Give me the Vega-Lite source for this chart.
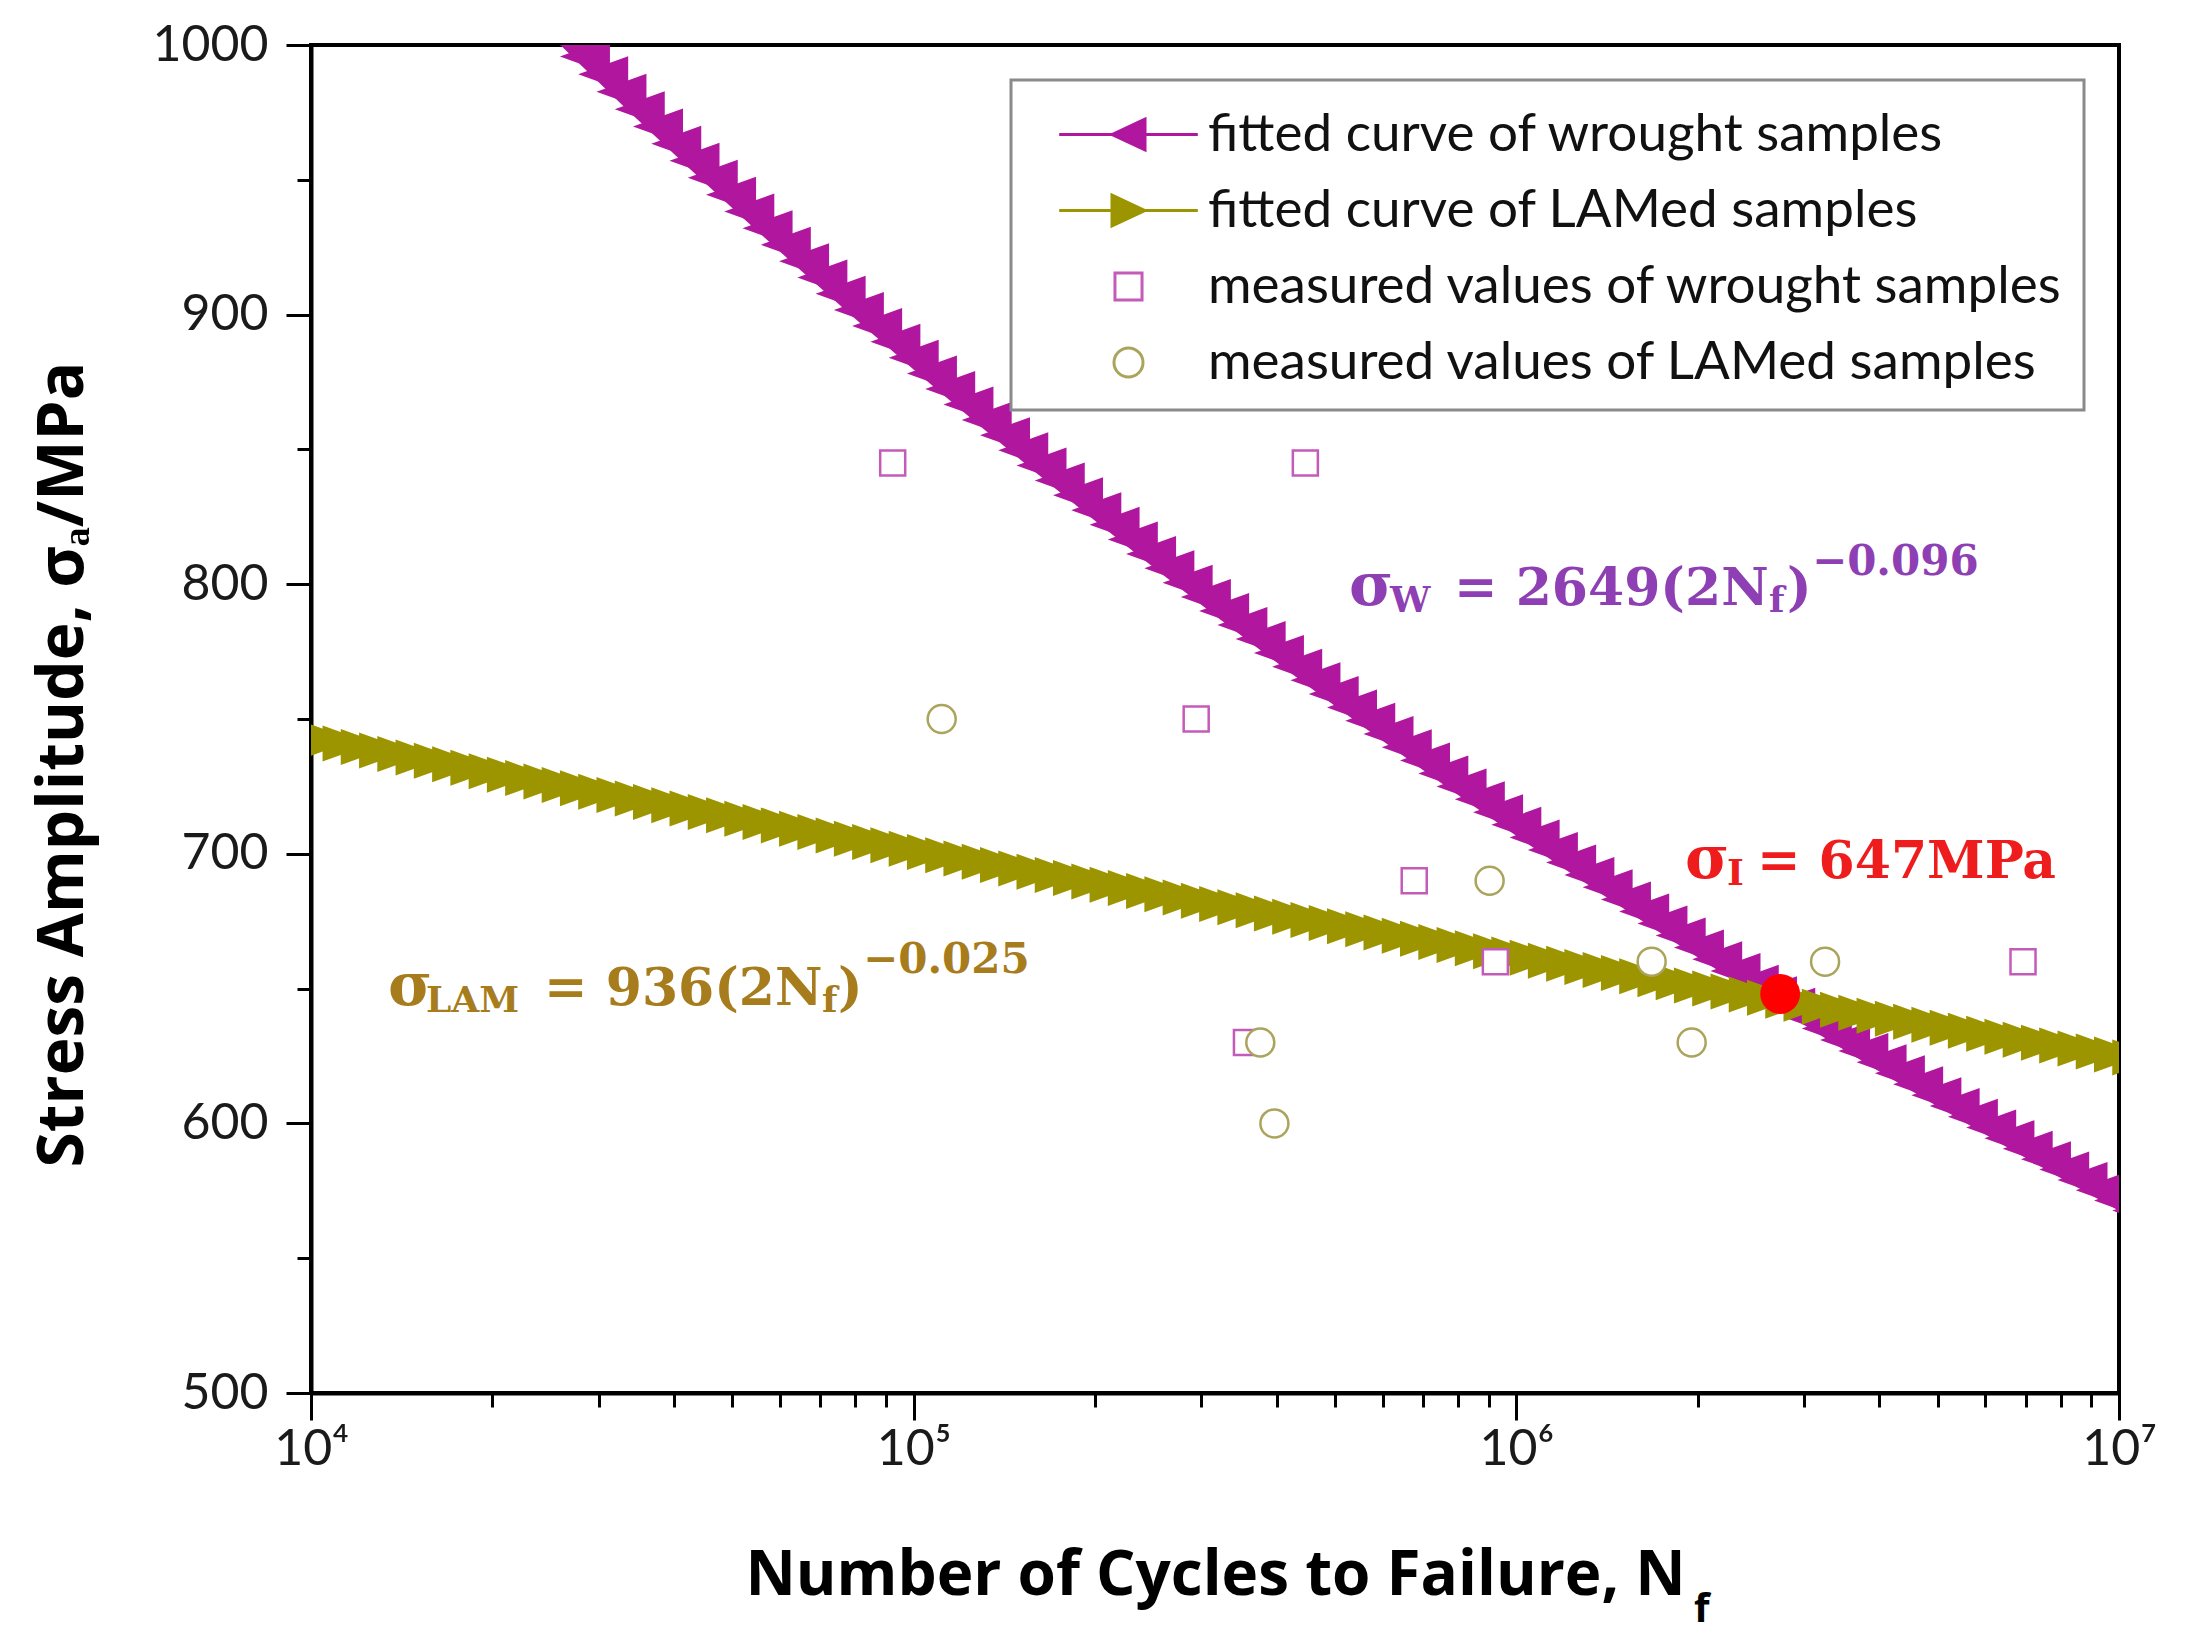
{
  "$schema": "https://vega.github.io/schema/vega-lite/v6.json",
  "width": 1808,
  "height": 1348,
  "autosize": {"type": "none"},
  "padding": {"left": 311, "top": 45, "right": 74, "bottom": 248},
  "background": "white",
  "config": {
    "view": {"stroke": "black", "strokeWidth": 4},
    "legend": {
      "orient": "none",
      "legendX": 700,
      "legendY": 35,
      "padding": 20,
      "strokeColor": "#8a8a8a",
      "strokeWidth": 3,
      "fillColor": "white",
      "labelFont": "Lato",
      "labelFontSize": 53,
      "labelColor": "#111111",
      "labelLimit": 2000,
      "labelOffset": 45,
      "symbolOffset": 63,
      "symbolSize": 4356,
      "symbolStrokeWidth": 3,
      "rowPadding": 14
    }
  },
  "datasets": {
    "wrought": [
      {"N": 20092, "S": 1029.22}, {"N": 21544, "S": 1022.44}, {"N": 23101, "S": 1015.7}, {"N": 24771, "S": 1009.01},
      {"N": 26561, "S": 1002.36}, {"N": 28480, "S": 995.75}, {"N": 30538, "S": 989.19}, {"N": 32745, "S": 982.67},
      {"N": 35112, "S": 976.2}, {"N": 37649, "S": 969.76}, {"N": 40370, "S": 963.37}, {"N": 43287, "S": 957.03},
      {"N": 46416, "S": 950.72}, {"N": 49770, "S": 944.46}, {"N": 53367, "S": 938.23}, {"N": 57224, "S": 932.05},
      {"N": 61359, "S": 925.9}, {"N": 65793, "S": 919.8}, {"N": 70548, "S": 913.74}, {"N": 75646, "S": 907.73},
      {"N": 81113, "S": 901.74}, {"N": 86975, "S": 895.81}, {"N": 93260, "S": 889.9},
      {"N": 100000, "S": 884.02}, {"N": 107230, "S": 878.19}, {"N": 114980, "S": 872.41}, {"N": 123280, "S": 866.65},
      {"N": 132190, "S": 860.95}, {"N": 141750, "S": 855.28}, {"N": 151990, "S": 849.64}, {"N": 162970, "S": 844.04},
      {"N": 174750, "S": 838.47}, {"N": 187380, "S": 832.95}, {"N": 200920, "S": 827.46}, {"N": 215440, "S": 822.01},
      {"N": 231010, "S": 816.59}, {"N": 247710, "S": 811.21}, {"N": 265610, "S": 805.87}, {"N": 284800, "S": 800.55},
      {"N": 305380, "S": 795.29}, {"N": 327450, "S": 790.04}, {"N": 351120, "S": 784.84}, {"N": 376490, "S": 779.67},
      {"N": 403700, "S": 774.52}, {"N": 432870, "S": 769.42}, {"N": 464160, "S": 764.35}, {"N": 497700, "S": 759.31},
      {"N": 533670, "S": 754.31}, {"N": 572240, "S": 749.34}, {"N": 613590, "S": 744.4}, {"N": 657930, "S": 739.49},
      {"N": 705480, "S": 734.62}, {"N": 756460, "S": 729.78}, {"N": 811130, "S": 724.97}, {"N": 869750, "S": 720.2},
      {"N": 932600, "S": 715.45},
      {"N": 1000000, "S": 710.73}, {"N": 1072300, "S": 706.05}, {"N": 1149800, "S": 701.4}, {"N": 1232800, "S": 696.77},
      {"N": 1321900, "S": 692.18}, {"N": 1417500, "S": 687.62}, {"N": 1519900, "S": 683.09}, {"N": 1629700, "S": 678.58},
      {"N": 1747500, "S": 674.11}, {"N": 1873800, "S": 669.67}, {"N": 2009200, "S": 665.26}, {"N": 2154400, "S": 660.87},
      {"N": 2310100, "S": 656.52}, {"N": 2477100, "S": 652.19}, {"N": 2656100, "S": 647.9}, {"N": 2848000, "S": 643.63},
      {"N": 3053800, "S": 639.38}, {"N": 3274500, "S": 635.17}, {"N": 3511200, "S": 630.98}, {"N": 3764900, "S": 626.83},
      {"N": 4037000, "S": 622.7}, {"N": 4328700, "S": 618.59}, {"N": 4641600, "S": 614.52}, {"N": 4977000, "S": 610.47},
      {"N": 5336700, "S": 606.45}, {"N": 5722400, "S": 602.44}, {"N": 6135900, "S": 598.48}, {"N": 6579300, "S": 594.53},
      {"N": 7054800, "S": 590.62}, {"N": 7564600, "S": 586.73}, {"N": 8111300, "S": 582.86}, {"N": 8697500, "S": 579.02},
      {"N": 9326000, "S": 575.2},
      {"N": 10000000, "S": 571.41}, {"N": 10723000, "S": 567.65}, {"N": 11498000, "S": 563.91}
    ],
    "lamed": [
      {"N": 8697, "S": 746.09}, {"N": 9326, "S": 744.79},
      {"N": 10000, "S": 743.49}, {"N": 10723, "S": 742.19}, {"N": 11498, "S": 740.9}, {"N": 12328, "S": 739.61},
      {"N": 13219, "S": 738.32}, {"N": 14175, "S": 737.04}, {"N": 15199, "S": 735.75}, {"N": 16297, "S": 734.47},
      {"N": 17475, "S": 733.19}, {"N": 18738, "S": 731.92}, {"N": 20092, "S": 730.64}, {"N": 21544, "S": 729.36},
      {"N": 23101, "S": 728.09}, {"N": 24771, "S": 726.83}, {"N": 26561, "S": 725.56}, {"N": 28480, "S": 724.29},
      {"N": 30538, "S": 723.03}, {"N": 32745, "S": 721.77}, {"N": 35112, "S": 720.52}, {"N": 37649, "S": 719.26},
      {"N": 40370, "S": 718.01}, {"N": 43287, "S": 716.76}, {"N": 46416, "S": 715.51}, {"N": 49770, "S": 714.26},
      {"N": 53367, "S": 713.02}, {"N": 57224, "S": 711.78}, {"N": 61359, "S": 710.54}, {"N": 65793, "S": 709.3},
      {"N": 70548, "S": 708.07}, {"N": 75646, "S": 706.83}, {"N": 81113, "S": 705.6}, {"N": 86975, "S": 704.37},
      {"N": 93260, "S": 703.14},
      {"N": 100000, "S": 701.9}, {"N": 107230, "S": 700.67}, {"N": 114980, "S": 699.46}, {"N": 123280, "S": 698.24},
      {"N": 132190, "S": 697.02}, {"N": 141750, "S": 695.81}, {"N": 151990, "S": 694.59}, {"N": 162970, "S": 693.38},
      {"N": 174750, "S": 692.18}, {"N": 187380, "S": 690.98}, {"N": 200920, "S": 689.77}, {"N": 215440, "S": 688.56},
      {"N": 231010, "S": 687.36}, {"N": 247710, "S": 686.17}, {"N": 265610, "S": 684.97}, {"N": 284800, "S": 683.77},
      {"N": 305380, "S": 682.58}, {"N": 327450, "S": 681.39}, {"N": 351120, "S": 680.21}, {"N": 376490, "S": 679.02},
      {"N": 403700, "S": 677.85}, {"N": 432870, "S": 676.67}, {"N": 464160, "S": 675.49}, {"N": 497700, "S": 674.31},
      {"N": 533670, "S": 673.14}, {"N": 572240, "S": 671.97}, {"N": 613590, "S": 670.79}, {"N": 657930, "S": 669.62},
      {"N": 705480, "S": 668.46}, {"N": 756460, "S": 667.29}, {"N": 811130, "S": 666.13}, {"N": 869750, "S": 664.97},
      {"N": 932600, "S": 663.81},
      {"N": 1000000, "S": 662.64}, {"N": 1072300, "S": 661.48}, {"N": 1149800, "S": 660.33}, {"N": 1232800, "S": 659.18},
      {"N": 1321900, "S": 658.03}, {"N": 1417500, "S": 656.89}, {"N": 1519900, "S": 655.74}, {"N": 1629700, "S": 654.59},
      {"N": 1747500, "S": 653.46}, {"N": 1873800, "S": 652.33}, {"N": 2009200, "S": 651.19}, {"N": 2154400, "S": 650.04},
      {"N": 2310100, "S": 648.91}, {"N": 2477100, "S": 647.79}, {"N": 2656100, "S": 646.65}, {"N": 2848000, "S": 645.52},
      {"N": 3053800, "S": 644.4}, {"N": 3274500, "S": 643.27}, {"N": 3511200, "S": 642.16}, {"N": 3764900, "S": 641.04},
      {"N": 4037000, "S": 639.93}, {"N": 4328700, "S": 638.82}, {"N": 4641600, "S": 637.7}, {"N": 4977000, "S": 636.59},
      {"N": 5336700, "S": 635.49}, {"N": 5722400, "S": 634.38}, {"N": 6135900, "S": 633.27}, {"N": 6579300, "S": 632.16},
      {"N": 7054800, "S": 631.07}, {"N": 7564600, "S": 629.96}, {"N": 8111300, "S": 628.87}, {"N": 8697500, "S": 627.77},
      {"N": 9326000, "S": 626.68},
      {"N": 10000000, "S": 625.57}, {"N": 10723000, "S": 624.48}, {"N": 11498000, "S": 623.39}
    ],
    "measured": [
      {"series": "measured values of wrought samples", "N": 92300, "S": 845},
      {"series": "measured values of wrought samples", "N": 446600, "S": 845},
      {"series": "measured values of wrought samples", "N": 294300, "S": 750},
      {"series": "measured values of wrought samples", "N": 677000, "S": 690},
      {"series": "measured values of wrought samples", "N": 923000, "S": 660},
      {"series": "measured values of wrought samples", "N": 356600, "S": 630},
      {"series": "measured values of wrought samples", "N": 6930000, "S": 660},
      {"series": "measured values of LAMed samples", "N": 111300, "S": 750},
      {"series": "measured values of LAMed samples", "N": 903000, "S": 690},
      {"series": "measured values of LAMed samples", "N": 1677000, "S": 660},
      {"series": "measured values of LAMed samples", "N": 376000, "S": 630},
      {"series": "measured values of LAMed samples", "N": 396800, "S": 600},
      {"series": "measured values of LAMed samples", "N": 1954000, "S": 630},
      {"series": "measured values of LAMed samples", "N": 3253000, "S": 660}
    ],
    "notes": [
      {"N": 527700, "S": 792.3, "t": "σ", "role": "sig", "g": "W"},
      {"N": 617200, "S": 789.7, "t": "W", "role": "sub", "g": "W"},
      {"N": 788000, "S": 792.3, "t": "= 2649(2N", "role": "main", "g": "W"},
      {"N": 2626000, "S": 789.7, "t": "f", "role": "sub", "g": "W"},
      {"N": 2813000, "S": 792.3, "t": ")", "role": "main", "g": "W"},
      {"N": 3094000, "S": 803.4, "t": "−0.096", "role": "sup", "g": "W"},
      {"N": 13420, "S": 643.9, "t": "σ", "role": "sig", "g": "LAM"},
      {"N": 15520, "S": 641.3, "t": "LAM", "role": "sub", "g": "LAM"},
      {"N": 24360, "S": 643.9, "t": "= 936(2N", "role": "main", "g": "LAM"},
      {"N": 70465, "S": 641.3, "t": "f", "role": "sub", "g": "LAM"},
      {"N": 74904, "S": 643.9, "t": ")", "role": "main", "g": "LAM"},
      {"N": 82407, "S": 655.8, "t": "−0.025", "role": "sup", "g": "LAM"},
      {"N": 1905000, "S": 691.0, "t": "σ", "role": "sig", "g": "I"},
      {"N": 2237000, "S": 688.4, "t": "I", "role": "sub", "g": "I"},
      {"N": 2507000, "S": 691.0, "t": "= 647MPa", "role": "main", "g": "I"}
    ]
  },
  "encoding": {
    "x": {
      "field": "N",
      "type": "quantitative",
      "scale": {"type": "log", "domain": [10000, 10000000]},
      "axis": {
        "title": "Number of Cycles to Failure, N",
        "values": [10000, 20000, 30000, 40000, 50000, 60000, 70000, 80000, 90000,
                   100000, 200000, 300000, 400000, 500000, 600000, 700000, 800000, 900000,
                   1000000, 2000000, 3000000, 4000000, 5000000, 6000000, 7000000, 8000000, 9000000, 10000000],
        "labelExpr": "datum.value == 10000 ? '10⁴' : datum.value == 100000 ? '10⁵' : datum.value == 1000000 ? '10⁶' : datum.value == 10000000 ? '10⁷' : ''",
        "tickSize": {"condition": {"test": "indexof([10000, 100000, 1000000, 10000000], datum.value) >= 0", "value": 27}, "value": 14},
        "tickWidth": 3,
        "tickColor": "black",
        "domainColor": "black",
        "domainWidth": 4,
        "grid": false,
        "labelFont": "Lato",
        "labelFontSize": 50,
        "labelColor": "#1a1a1a",
        "labelPadding": 4,
        "labelFlush": false,
        "labelOverlap": false,
        "titleFont": "Open Sans",
        "titleFontSize": 62,
        "titleFontWeight": "bold",
        "titleColor": "black",
        "titlePadding": 71
      }
    },
    "y": {
      "field": "S",
      "type": "quantitative",
      "scale": {"domain": [500, 1000], "nice": false, "zero": false},
      "axis": {
        "title": "Stress Amplitude, σₐ/MPa",
        "values": [500, 550, 600, 650, 700, 750, 800, 850, 900, 950, 1000],
        "format": "d",
        "labelExpr": "datum.value % 100 === 0 ? datum.label : ''",
        "tickSize": {"condition": {"test": "datum.value % 100 === 0", "value": 25}, "value": 14},
        "tickWidth": 3,
        "tickColor": "black",
        "domainColor": "black",
        "domainWidth": 4,
        "grid": false,
        "labelFont": "Lato",
        "labelFontSize": 50,
        "labelColor": "#1a1a1a",
        "labelPadding": 18,
        "labelOverlap": false,
        "titleFont": "Open Sans",
        "titleFontSize": 64,
        "titleFontWeight": "bold",
        "titleColor": "black",
        "titlePadding": 56,
        "titleY": 719
      }
    }
  },
  "layer": [
    {
      "data": {"name": "wrought"},
      "mark": {"type": "line", "strokeWidth": 18, "color": "#b0169e", "clip": true}
    },
    {
      "data": {"name": "wrought"},
      "mark": {"type": "point", "shape": "M-1,0L1,-0.72L1,0.72Z", "filled": true, "size": 2500, "color": "#b0169e", "opacity": 1, "clip": true}
    },
    {
      "data": {"name": "lamed"},
      "mark": {"type": "line", "strokeWidth": 18, "color": "#9c9500", "clip": true}
    },
    {
      "data": {"name": "lamed"},
      "mark": {"type": "point", "shape": "M1,0L-1,-0.72L-1,0.72Z", "filled": true, "size": 2500, "color": "#9c9500", "opacity": 1, "clip": true}
    },
    {
      "data": {"name": "measured"},
      "mark": {"type": "point", "filled": false, "strokeWidth": 2.5, "opacity": 1},
      "encoding": {
        "shape": {
          "field": "series", "type": "nominal", "title": null,
          "scale": {
            "domain": ["fitted curve of wrought samples", "fitted curve of LAMed samples", "measured values of wrought samples", "measured values of LAMed samples"],
            "range": [
              "M-2.1,0H-0.5M0.5,0H2.1M-0.5,0L0.5,-0.47L0.5,0.47Z",
              "M-2.1,0H-0.5M0.5,0H2.1M0.5,0L-0.5,-0.47L-0.5,0.47Z",
              "M-0.41,-0.41H0.41V0.41H-0.41Z",
              "M-0.44,0A0.44,0.44,0,1,1,0.44,0A0.44,0.44,0,1,1,-0.44,0Z"
            ]
          }
        },
        "stroke": {
          "field": "series", "type": "nominal", "title": null,
          "scale": {
            "domain": ["fitted curve of wrought samples", "fitted curve of LAMed samples", "measured values of wrought samples", "measured values of LAMed samples"],
            "range": ["#b0169e", "#9c9500", "#c45bb8", "#aaa45c"]
          }
        },
        "fill": {
          "field": "series", "type": "nominal", "title": null,
          "scale": {
            "domain": ["fitted curve of wrought samples", "fitted curve of LAMed samples", "measured values of wrought samples", "measured values of LAMed samples"],
            "range": ["#b0169e", "#9c9500", "white", "white"]
          }
        },
        "size": {"condition": {"test": "datum.series === 'measured values of wrought samples'", "value": 3721}, "value": 4050}
      }
    },
    {
      "data": {"values": [{"N": 2740000, "S": 648}]},
      "mark": {"type": "point", "shape": "circle", "filled": true, "size": 1590, "color": "#ff0000", "opacity": 1}
    },
    {
      "data": {"name": "notes"},
      "mark": {"type": "text", "font": "DejaVu Serif", "fontWeight": "bold", "align": "left", "baseline": "alphabetic"},
      "encoding": {
        "text": {"field": "t"},
        "color": {
          "field": "g", "type": "nominal", "legend": null,
          "scale": {"domain": ["W", "LAM", "I"], "range": ["#8e3fb3", "#a77c1c", "#ee1c1c"]}
        },
        "size": {
          "condition": [
            {"test": "datum.role === 'main'", "value": 52},
            {"test": "datum.role === 'sig'", "value": 60},
            {"test": "datum.role === 'sup'", "value": 42}
          ],
          "value": 36
        }
      }
    },
    {
      "data": {"values": [{"N": 1972000, "S": 415.0, "t": "f"}]},
      "mark": {"type": "text", "font": "Open Sans", "fontWeight": "bold", "fontSize": 40, "align": "left", "baseline": "alphabetic", "color": "black"},
      "encoding": {"text": {"field": "t"}}
    }
  ]
}
